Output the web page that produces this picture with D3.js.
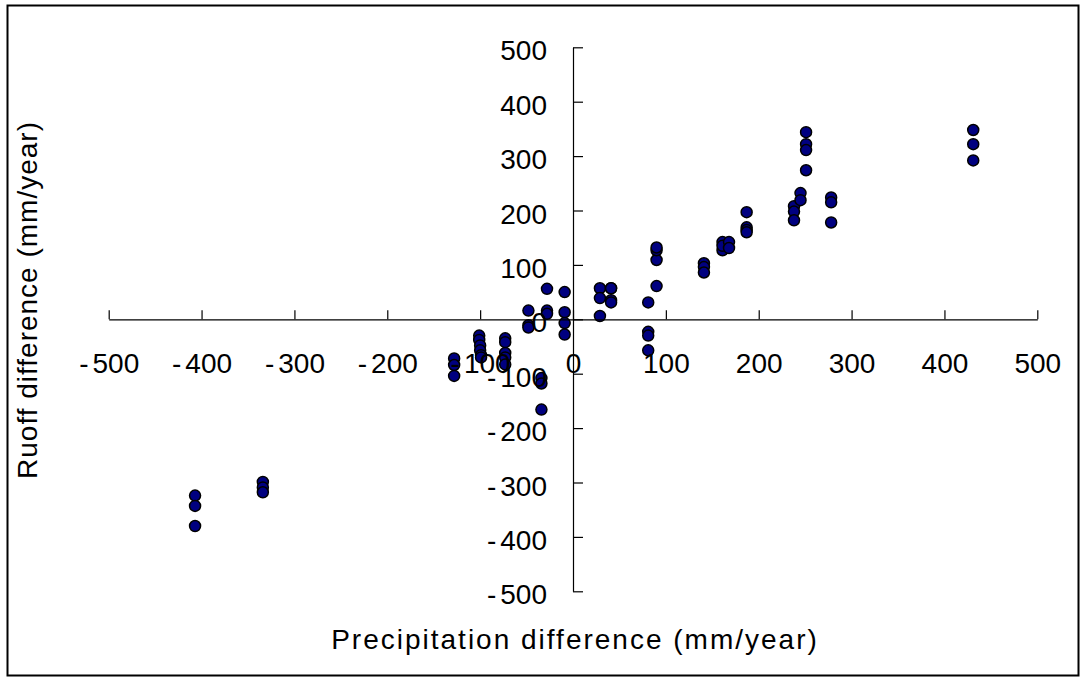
<!DOCTYPE html>
<html>
<head>
<meta charset="utf-8">
<script src="https://cdn.jsdelivr.net/npm/d3@7"></script>
<style>
  html, body { margin: 0; padding: 0; background: #fff; }
  svg { display: block; }
  text { font-family: "Liberation Sans", Arial, sans-serif; fill: #000; }
</style>
</head>
<body>
<svg id="chart" width="1087" height="679"></svg>
<script>
// ---- data ----
const precipitationDiff = [
  -407, -407, -407,
  -334, -334, -334,
  -128, -128, -128,
  -101, -101, -100, -100, -99, -99,
  -73, -73, -73, -73, -73,
  -48, -48, -48,
  -34, -34, -34,
  -28, -28, -28,
  -9, -9, -9, -9,
  29, 29, 29,
  41, 41, 41, 41,
  81, 81, 81, 81,
  90, 90, 90, 90,
  141, 141, 141,
  161, 161, 161, 168, 168,
  187, 187, 187, 187,
  238, 238, 238,
  245, 245,
  251, 251, 251, 251,
  278, 278, 278,
  431, 431, 431
];
const runoffDiff = [
  -324, -343, -380,
  -299, -309, -318,
  -72, -84, -104,
  -30, -38, -48, -57, -66, -70,
  -35, -42, -62, -70, -83,
  16, -11, -15,
  -108, -118, -166,
  56, 16, 10,
  50, 13, -7, -28,
  57, 39, 6,
  57, 35, 31, 57,
  31, -23, -30, -57,
  61, 109, 127, 132,
  103, 96, 86,
  142, 127, 135, 142, 131,
  197, 169, 164, 160,
  208, 198, 182,
  232, 219,
  344, 322, 311, 274,
  224, 215, 178,
  348, 322, 292
];
const xTicks = [-500, -400, -300, -200, -100, 0, 100, 200, 300, 400, 500];
const yTicks = [-500, -400, -300, -200, -100, 0, 100, 200, 300, 400, 500];
const xTitle = "Precipitation difference (mm/year)";
const yTitle = "Ruoff difference (mm/year)";

// ---- drawing ----
const svg = d3.select("#chart");

svg.append("rect")
  .attr("x", 7.5).attr("y", 5.5)
  .attr("width", 1071).attr("height", 670)
  .attr("fill", "#fff").attr("stroke", "#000").attr("stroke-width", 2);

const x = d3.scaleLinear().domain([-500, 500]).range([108.7, 1037.3]);
const y = d3.scaleLinear().domain([-500, 500]).range([591.3, 47.3]);

const fmt = d => String(d);

// points (drawn first, axes and labels on top)
const pts = precipitationDiff.map((p, i) => ({ p, r: runoffDiff[i] }));
svg.append("g").selectAll("circle").data(pts).join("circle")
  .attr("cx", d => x(d.p)).attr("cy", d => y(d.r))
  .attr("r", 5.5)
  .attr("fill", "#000080").attr("stroke", "#000").attr("stroke-width", 1.5);

// x axis through y = 0, ticks pointing up, labels below
const gx = svg.append("g")
  .attr("transform", `translate(0,${y(0)})`)
  .call(d3.axisBottom(x).tickValues(xTicks).tickFormat(fmt)
    .tickSizeInner(-9).tickSizeOuter(0).tickPadding(34));

// y axis through x = 0, ticks pointing right, labels left
const gy = svg.append("g")
  .attr("transform", `translate(${x(0)},0)`)
  .call(d3.axisLeft(y).tickValues(yTicks).tickFormat(fmt)
    .tickSizeInner(-10).tickSizeOuter(0).tickPadding(26));

[gx, gy].forEach(g => {
  g.select(".domain").attr("stroke", "#000").attr("stroke-width", 1.2);
  g.selectAll(".tick line").attr("stroke", "#000").attr("stroke-width", 1.2);
  g.selectAll(".tick text").attr("font-size", 28).attr("fill", "#000")
    .attr("font-family", "Liberation Sans, Arial, sans-serif")
    .each(function(d) {
      if (d < 0) {
        const t = d3.select(this);
        t.text(null);
        t.append("tspan").text("-");
        t.append("tspan").attr("dx", 4).text(String(-d));
      }
    });
});
gy.selectAll(".tick text").attr("dy", "0.45em");

// titles
svg.append("text")
  .attr("x", 575).attr("y", 649)
  .attr("text-anchor", "middle")
  .attr("font-size", 28)
  .attr("letter-spacing", 2)
  .text(xTitle);

svg.append("text")
  .attr("transform", `translate(37,${300}) rotate(-90)`)
  .attr("text-anchor", "middle")
  .attr("font-size", 28)
  .attr("letter-spacing", 1)
  .text(yTitle);
</script>
</body>
</html>
